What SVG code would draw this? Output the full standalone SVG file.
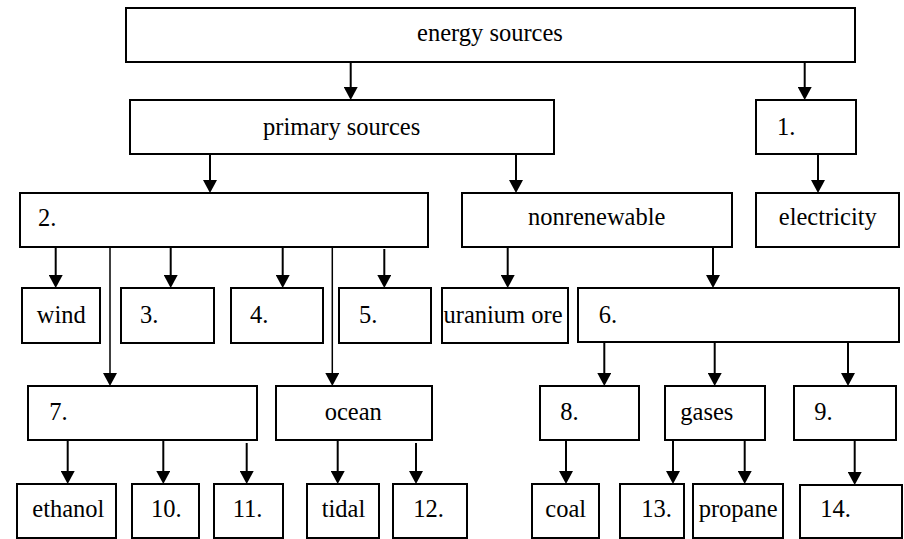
<svg xmlns="http://www.w3.org/2000/svg" width="904" height="539" viewBox="0 0 904 539">
  <style>
    .box { fill: #ffffff; stroke: #000000; stroke-width: 2; }
    .lbl { font-size: 24.5px; fill: #000000; }
    .mid { text-anchor: middle; }
    .arr { stroke: #000000; stroke-width: 2; fill: none; marker-end: url(#head); }
    .thin { stroke-width: 1.5; }
  </style>
  <defs>
    <marker id="head" markerUnits="userSpaceOnUse" viewBox="0 0 13 14" refX="5" refY="7" markerWidth="13" markerHeight="14" orient="auto">
      <path d="M0,0 L13,7 L0,14 z" fill="#000000"/>
    </marker>
  </defs>
  <rect width="904" height="539" fill="#ffffff"/>

  <!-- connectors: each line stops 8px short of the box; the head covers the rest -->
  <g id="connectors">
    <line class="arr" x1="350.7" y1="62" x2="350.7" y2="92"/>
    <line class="arr" x1="804.7" y1="62" x2="804.7" y2="92"/>
    <line class="arr" x1="210" y1="154" x2="210" y2="185"/>
    <line class="arr" x1="516" y1="154" x2="516" y2="185"/>
    <line class="arr" x1="818" y1="154" x2="818" y2="185"/>
    <line class="arr" x1="55.7" y1="247" x2="55.7" y2="280"/>
    <line class="arr" x1="170.7" y1="247" x2="170.7" y2="280"/>
    <line class="arr" x1="282.7" y1="247" x2="282.7" y2="280"/>
    <line class="arr" x1="384.3" y1="249" x2="384.3" y2="280"/>
    <line class="arr thin" x1="110" y1="247" x2="110" y2="378"/>
    <line class="arr thin" x1="332.3" y1="247" x2="332.3" y2="378"/>
    <line class="arr" x1="507.7" y1="247" x2="507.7" y2="280"/>
    <line class="arr" x1="713" y1="247" x2="713" y2="280"/>
    <line class="arr" x1="604.3" y1="342" x2="604.3" y2="378"/>
    <line class="arr" x1="714.7" y1="342" x2="714.7" y2="378"/>
    <line class="arr" x1="848" y1="343" x2="848" y2="378"/>
    <line class="arr" x1="67.7" y1="441" x2="67.7" y2="476"/>
    <line class="arr" x1="163.3" y1="441" x2="163.3" y2="476"/>
    <line class="arr" x1="246.7" y1="443" x2="246.7" y2="476"/>
    <line class="arr" x1="337.7" y1="441" x2="337.7" y2="476"/>
    <line class="arr" x1="416" y1="443" x2="416" y2="476"/>
    <line class="arr" x1="566" y1="440" x2="566" y2="476"/>
    <line class="arr" x1="673" y1="440" x2="673" y2="476"/>
    <line class="arr" x1="744.7" y1="440" x2="744.7" y2="476"/>
    <line class="arr" x1="854.7" y1="440" x2="854.7" y2="477"/>
  </g>

  <g font-family="'Liberation Serif', 'DejaVu Serif', serif">
  <g id="energy-sources"><rect class="box" x="126" y="8" width="729" height="54"/><text class="lbl mid" x="490" y="41">energy sources</text></g>
  <g id="primary-sources"><rect class="box" x="130" y="100" width="424" height="54"/><text class="lbl mid" x="341.7" y="135">primary sources</text></g>
  <g id="n1"><rect class="box" x="756" y="100" width="100" height="54"/><text class="lbl" x="777" y="135">1.</text></g>

  <g id="n2"><rect class="box" x="20" y="193" width="408" height="54"/><text class="lbl" x="38" y="226">2.</text></g>
  <g id="nonrenewable"><rect class="box" x="462" y="193" width="270" height="54"/><text class="lbl mid" x="596.7" y="225">nonrenewable</text></g>
  <g id="electricity"><rect class="box" x="756" y="193" width="143" height="54"/><text class="lbl mid" x="827.8" y="225">electricity</text></g>

  <g id="wind"><rect class="box" x="22" y="288" width="78" height="55"/><text class="lbl" x="36.7" y="322.7">wind</text></g>
  <g id="n3"><rect class="box" x="121" y="288" width="93" height="55"/><text class="lbl" x="140" y="322.7">3.</text></g>
  <g id="n4"><rect class="box" x="231" y="288" width="92" height="55"/><text class="lbl" x="250" y="322.7">4.</text></g>
  <g id="n5"><rect class="box" x="339" y="288" width="92" height="55"/><text class="lbl" x="359" y="322.7">5.</text></g>
  <g id="uranium-ore"><rect class="box" x="442" y="288" width="126" height="55"/><text class="lbl" x="443.5" y="322.7">uranium ore</text></g>
  <g id="n6"><rect class="box" x="578" y="288" width="321" height="54"/><text class="lbl" x="598.7" y="322.7">6.</text></g>

  <g id="n7"><rect class="box" x="28" y="386" width="229" height="54"/><text class="lbl" x="49.3" y="420">7.</text></g>
  <g id="ocean"><rect class="box" x="276" y="386" width="156" height="54"/><text class="lbl mid" x="353.3" y="420">ocean</text></g>
  <g id="n8"><rect class="box" x="540" y="386" width="99" height="54"/><text class="lbl" x="560.3" y="420">8.</text></g>
  <g id="gases"><rect class="box" x="665" y="386" width="100" height="54"/><text class="lbl" x="680.3" y="420">gases</text></g>
  <g id="n9"><rect class="box" x="794" y="386" width="102" height="54"/><text class="lbl" x="814.3" y="420">9.</text></g>

  <g id="ethanol"><rect class="box" x="17" y="484" width="99" height="54"/><text class="lbl" x="32.3" y="516.7">ethanol</text></g>
  <g id="n10"><rect class="box" x="132" y="484" width="67" height="54"/><text class="lbl" x="151" y="516.7">10.</text></g>
  <g id="n11"><rect class="box" x="214" y="484" width="69" height="54"/><text class="lbl" x="232.7" y="516.7">11.</text></g>
  <g id="tidal"><rect class="box" x="307" y="484" width="72" height="54"/><text class="lbl" x="321.7" y="516.7">tidal</text></g>
  <g id="n12"><rect class="box" x="393" y="484" width="74" height="54"/><text class="lbl" x="413.3" y="516.7">12.</text></g>
  <g id="coal"><rect class="box" x="532" y="484" width="67" height="54"/><text class="lbl" x="545.3" y="516.7">coal</text></g>
  <g id="n13"><rect class="box" x="620" y="484" width="64" height="54"/><text class="lbl" x="641.3" y="516.7">13.</text></g>
  <g id="propane"><rect class="box" x="693" y="484" width="90" height="54"/><text class="lbl" x="698.7" y="516.7">propane</text></g>
  <g id="n14"><rect class="box" x="800" y="485" width="102" height="53"/><text class="lbl" x="820.3" y="516.7">14.</text></g>
  </g>
</svg>
